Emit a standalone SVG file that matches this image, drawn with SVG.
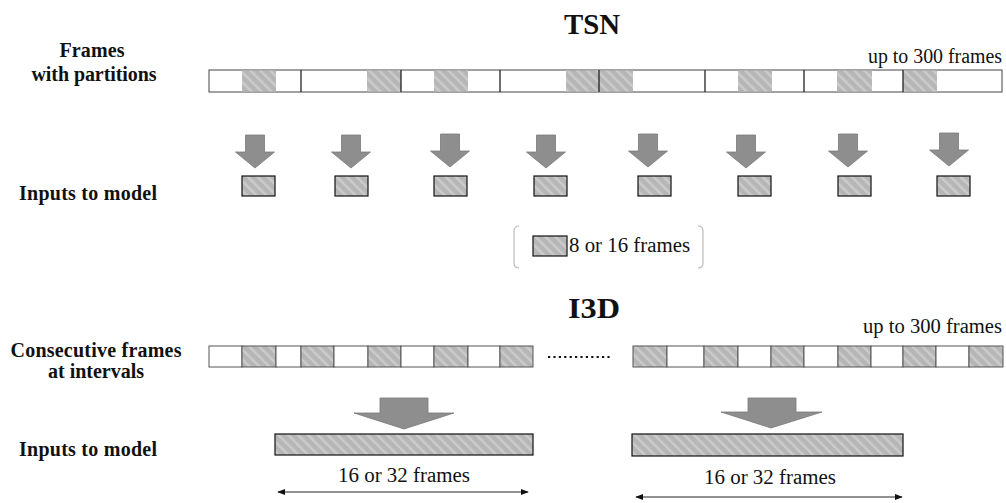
<svg xmlns="http://www.w3.org/2000/svg" width="1006" height="503" viewBox="0 0 1006 503">
<defs>
<pattern id="hatch" width="7" height="7" patternUnits="userSpaceOnUse" patternTransform="rotate(-45)">
<rect width="7" height="7" fill="#b6b6b6"/>
<rect width="2.5" height="7" fill="#cbcbcb"/>
</pattern>
<marker id="ah" viewBox="0 0 10 10" refX="9" refY="5" markerWidth="8" markerHeight="8" markerUnits="userSpaceOnUse" orient="auto-start-reverse">
<path d="M0,1 L10,5 L0,9 Z" fill="#111"/>
</marker>
<path id="sarrow" d="M -9.5 0 H 9.5 V 17 H 19.5 L 0 33 L -19.5 17 H -9.5 Z"/>
</defs>
<style>
.lbl{font-family:"Liberation Serif","Times New Roman",serif;font-weight:bold;font-size:20px;fill:#111}
.ttl{font-family:"Liberation Serif","Times New Roman",serif;font-weight:bold;font-size:30px;fill:#111}
.txt{font-family:"Liberation Serif","Times New Roman",serif;font-size:20px;fill:#111}
.h{fill:url(#hatch)}
.cell{fill:#fff;stroke:#555;stroke-width:1}
.hc{fill:url(#hatch);stroke:#555;stroke-width:1}
.box{fill:url(#hatch);stroke:#111;stroke-width:1.2}
.arr{fill:#8e8e8e;stroke:#7a7a7a;stroke-width:0.8}
.div{stroke:#222;stroke-width:1.3}
.dbl{stroke:#222;stroke-width:1;fill:none}
</style>
<rect width="1006" height="503" fill="#fff"/>

<g id="tsn-title"><text class="ttl" x="592" y="34" text-anchor="middle" textLength="56" lengthAdjust="spacingAndGlyphs">TSN</text></g>
<g id="i3d-title"><text class="ttl" x="594" y="318" text-anchor="middle" textLength="52" lengthAdjust="spacingAndGlyphs">I3D</text></g>

<g id="labels">
<text class="lbl" x="92" y="57" text-anchor="middle" textLength="65" lengthAdjust="spacing">Frames</text>
<text class="lbl" x="94" y="81" text-anchor="middle" textLength="125" lengthAdjust="spacing">with partitions</text>
<text class="lbl" x="19" y="200" textLength="138" lengthAdjust="spacing">Inputs  to model</text>
<text class="lbl" x="96" y="357" text-anchor="middle" textLength="171" lengthAdjust="spacing">Consecutive frames</text>
<text class="lbl" x="96" y="378" text-anchor="middle" textLength="96" lengthAdjust="spacing">at intervals</text>
<text class="lbl" x="19" y="456" textLength="138" lengthAdjust="spacing">Inputs  to model</text>
</g>

<g id="tsn-bar">
<rect x="209" y="70" width="793" height="22" fill="#fff" stroke="#444" stroke-width="1"/>
<rect class="h" x="242" y="70.5" width="34" height="21"/>
<rect class="h" x="367" y="70.5" width="34" height="21"/>
<rect class="h" x="434" y="70.5" width="34" height="21"/>
<rect class="h" x="566" y="70.5" width="33" height="21"/>
<rect class="h" x="599" y="70.5" width="34" height="21"/>
<rect class="h" x="738" y="70.5" width="34" height="21"/>
<rect class="h" x="837" y="70.5" width="35" height="21"/>
<rect class="h" x="903" y="70.5" width="34" height="21"/>
<line class="div" x1="301" y1="70" x2="301" y2="92"/>
<line class="div" x1="401" y1="70" x2="401" y2="92"/>
<line class="div" x1="500" y1="70" x2="500" y2="92"/>
<line class="div" x1="599" y1="70" x2="599" y2="92"/>
<line class="div" x1="705" y1="70" x2="705" y2="92"/>
<line class="div" x1="804" y1="70" x2="804" y2="92"/>
<line class="div" x1="903" y1="70" x2="903" y2="92"/>
<text class="txt" x="1002" y="63" text-anchor="end" font-size="19" textLength="134" lengthAdjust="spacingAndGlyphs">up to 300 frames</text>
</g>

<g id="tsn-arrows">
<use href="#sarrow" class="arr" x="255" y="135"/>
<use href="#sarrow" class="arr" x="351" y="135"/>
<use href="#sarrow" class="arr" x="450" y="134"/>
<use href="#sarrow" class="arr" x="546" y="135"/>
<use href="#sarrow" class="arr" x="648" y="134"/>
<use href="#sarrow" class="arr" x="746" y="135"/>
<use href="#sarrow" class="arr" x="848" y="134"/>
<use href="#sarrow" class="arr" x="949" y="133"/>
</g>

<g id="tsn-inputs">
<rect class="box" x="242" y="176" width="33" height="20"/>
<rect class="box" x="335" y="176" width="33" height="20"/>
<rect class="box" x="434" y="176" width="33" height="20"/>
<rect class="box" x="534" y="176" width="33" height="20"/>
<rect class="box" x="638" y="176" width="33" height="20"/>
<rect class="box" x="738" y="176" width="33" height="20"/>
<rect class="box" x="838" y="176" width="33" height="20"/>
<rect class="box" x="937" y="176" width="33" height="20"/>
</g>

<g id="legend">
<path d="M 519 226 Q 514 226 514 231 V 263 Q 514 268 519 268" fill="none" stroke="#bbb" stroke-width="1.2"/>
<path d="M 698 226 Q 703 226 703 231 V 263 Q 703 268 698 268" fill="none" stroke="#bbb" stroke-width="1.2"/>
<rect class="box" x="533" y="236" width="34" height="20"/>
<text class="txt" x="569" y="252" textLength="121" lengthAdjust="spacingAndGlyphs">8 or 16 frames</text>
</g>

<g id="i3d-bar-left">
<rect class="cell" x="209" y="346" width="33" height="21"/>
<rect class="hc" x="242" y="346" width="34" height="21"/>
<rect class="cell" x="276" y="346" width="25" height="21"/>
<rect class="hc" x="301" y="346" width="33" height="21"/>
<rect class="cell" x="334" y="346" width="34" height="21"/>
<rect class="hc" x="368" y="346" width="33" height="21"/>
<rect class="cell" x="401" y="346" width="33" height="21"/>
<rect class="hc" x="434" y="346" width="34" height="21"/>
<rect class="cell" x="468" y="346" width="32" height="21"/>
<rect class="hc" x="500" y="346" width="33" height="21"/>
</g>

<g id="dots"><line x1="548" y1="357" x2="612" y2="357" stroke="#111" stroke-width="2.2" stroke-dasharray="2.2 3.2"/></g>

<g id="i3d-bar-right">
<rect class="hc" x="633" y="346" width="34" height="21"/>
<rect class="cell" x="667" y="346" width="37" height="21"/>
<rect class="hc" x="704" y="346" width="34" height="21"/>
<rect class="cell" x="738" y="346" width="33" height="21"/>
<rect class="hc" x="771" y="346" width="33" height="21"/>
<rect class="cell" x="804" y="346" width="34" height="21"/>
<rect class="hc" x="838" y="346" width="33" height="21"/>
<rect class="cell" x="871" y="346" width="32" height="21"/>
<rect class="hc" x="903" y="346" width="33" height="21"/>
<rect class="cell" x="936" y="346" width="33" height="21"/>
<rect class="hc" x="969" y="346" width="34" height="21"/>
<text class="txt" x="1002" y="333" text-anchor="end" font-size="19" textLength="139" lengthAdjust="spacingAndGlyphs">up to 300 frames</text>
</g>

<g id="i3d-arrows">
<path class="arr" d="M 380 398 H 428 V 413 H 454 L 404 429 L 354 413 H 380 Z"/>
<path class="arr" d="M 748 398 H 796 V 412 H 822 L 771 428 L 721 412 H 748 Z"/>
</g>

<g id="i3d-inputs">
<rect class="box" x="275" y="434" width="258" height="21"/>
<rect class="box" x="632" y="434" width="271" height="22"/>
</g>

<g id="spans">
<text class="txt" x="404" y="482" text-anchor="middle" font-size="21" textLength="132" lengthAdjust="spacingAndGlyphs">16 or 32 frames</text>
<text class="txt" x="770" y="484" text-anchor="middle" font-size="21" textLength="132" lengthAdjust="spacingAndGlyphs">16 or 32 frames</text>
</g>

<g id="connectors">
<line class="dbl" x1="278" y1="492" x2="528" y2="492" marker-start="url(#ah)" marker-end="url(#ah)"/>
<line class="dbl" x1="636" y1="497" x2="902" y2="497" marker-start="url(#ah)" marker-end="url(#ah)"/>
</g>
</svg>
